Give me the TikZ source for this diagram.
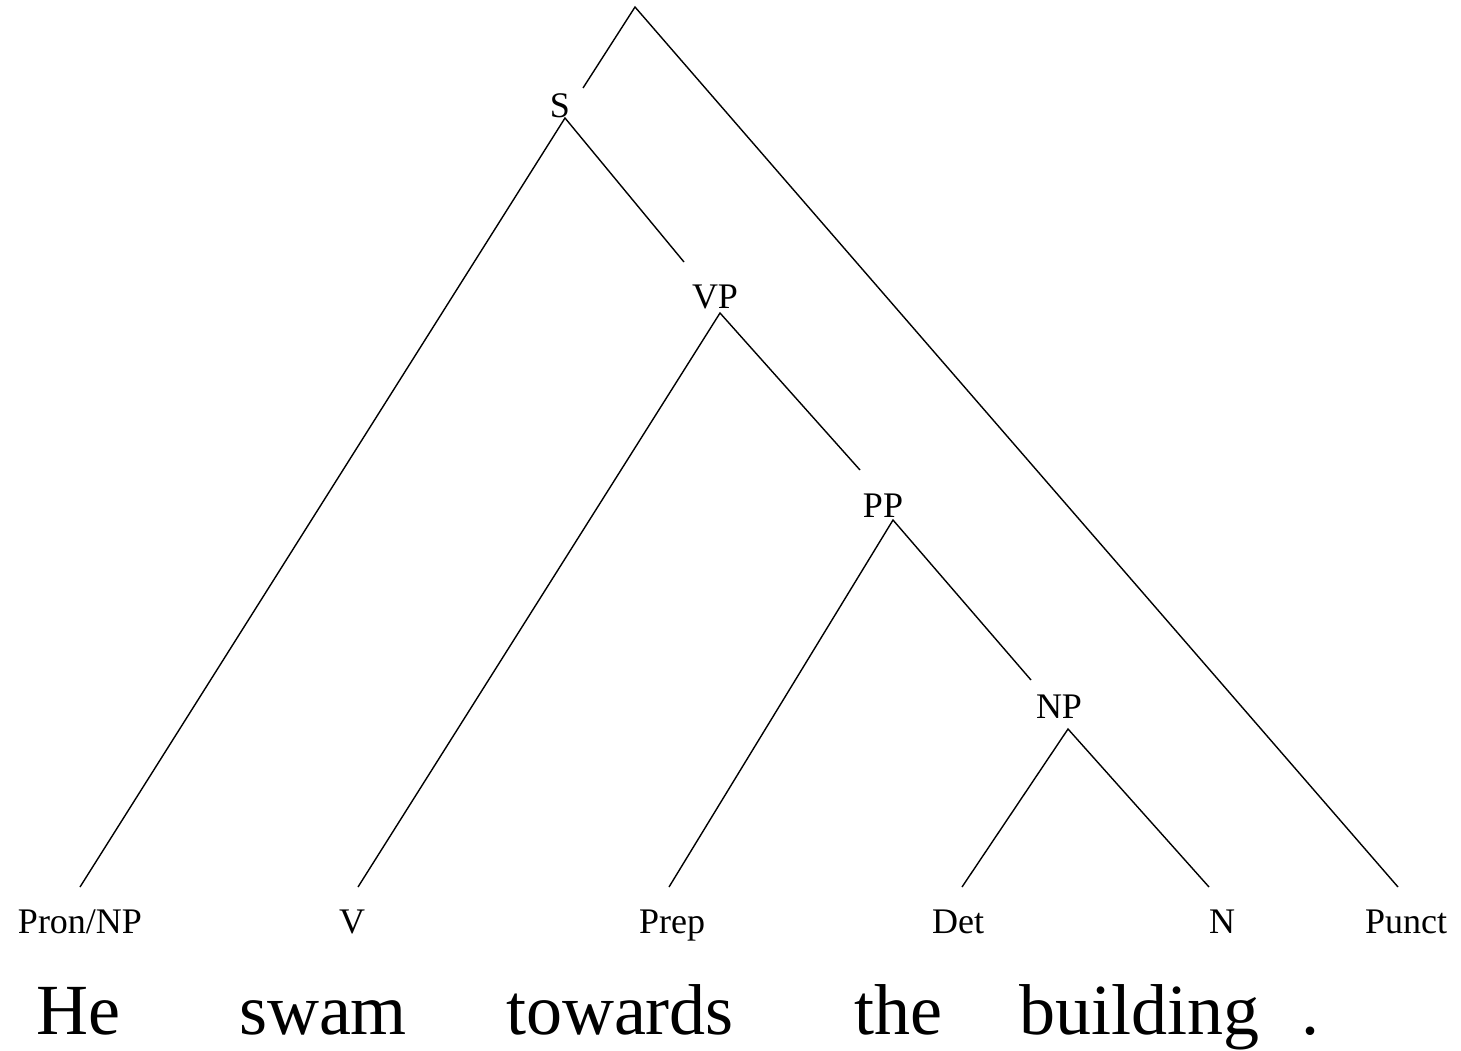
\documentclass[tikz,border=0pt]{standalone}
\usepackage{fontspec}
\setmainfont{Liberation Serif}
\begin{document}
\begin{tikzpicture}[x=1pt,y=-1pt,
  edge/.style={draw=black,line width=1.4pt},
  cat/.style={inner sep=0pt,anchor=base,font=\fontsize{36}{40}\selectfont},
  word/.style={inner sep=0pt,anchor=base,font=\fontsize{72}{80}\selectfont}]
\useasboundingbox (0,0) rectangle (1461,1050);
% category labels
\node[cat] (S) at (560,117) {S};
\node[cat] (VP) at (715,308) {VP};
\node[cat] (PP) at (883,517) {PP};
\node[cat] (NP) at (1059,718) {NP};
\node[cat] (pron) at (80,933) {Pron/NP};
\node[cat] (v) at (352,933) {V};
\node[cat] (prep) at (672,933) {Prep};
\node[cat] (det) at (958,933) {Det};
\node[cat] (n) at (1222,933) {N};
\node[cat] (punct) at (1406,933) {Punct};
% words
\node[word] (w1) at (78,1034) {He};
\node[word] (w2) at (323,1034) {swam};
\node[word] (w3) at (620,1034) {towards};
\node[word] (w4) at (898,1034) {the};
\node[word] (w5) at (1139,1034) {building};
\node[word] (w6) at (1310,1034) {.};
% anchor coordinates
\coordinate (rootTop) at (635,7);
\coordinate (rootL) at (583,88);
\coordinate (sTop) at (565,118);
\coordinate (sR) at (684,262);
\coordinate (vpTop) at (720,313);
\coordinate (vpR) at (860,470);
\coordinate (ppTop) at (893,520);
\coordinate (ppR) at (1031,680);
\coordinate (npTop) at (1068,729);
\coordinate (pronE) at (80,887);
\coordinate (vE) at (358,887);
\coordinate (prepE) at (669,887);
\coordinate (detE) at (962,887);
\coordinate (nE) at (1209,887);
\coordinate (punctE) at (1398,887);
% edges
\draw[edge] (rootL) -- (rootTop) -- (punctE);
\draw[edge] (pronE) -- (sTop) -- (sR);
\draw[edge] (vE) -- (vpTop) -- (vpR);
\draw[edge] (prepE) -- (ppTop) -- (ppR);
\draw[edge] (detE) -- (npTop) -- (nE);
\end{tikzpicture}
\end{document}
